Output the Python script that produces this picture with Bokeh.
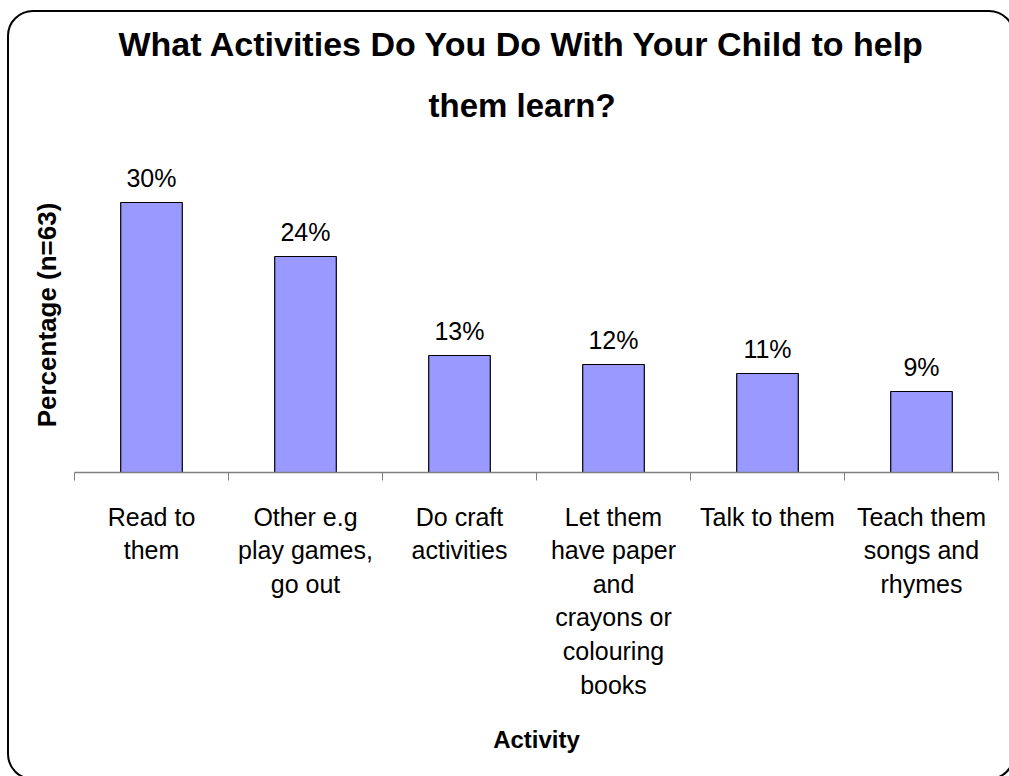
from bokeh.plotting import figure
from bokeh.models import FixedTicker, Range1d, ColumnDataSource, LabelSet, Title, InlineStyleSheet
from bokeh.embed import file_html
from bokeh.resources import INLINE
from bokeh.core.properties import value

# ---- data ----
categories = [
    "Read to\nthem",
    "Other e.g\nplay games,\ngo out",
    "Do craft\nactivities",
    "Let them\nhave paper\nand\ncrayons or\ncolouring\nbooks",
    "Talk to them",
    "Teach them\nsongs and\nrhymes",
]
percentages = [30, 24, 13, 12, 11, 9]
title_lines = ["What Activities Do You Do With Your  Child to help", "them learn?"]
x_title = "Activity"
y_title = "Percentage (n=63)"

FONT = "Liberation Sans"
W, H = 1009, 776
FL, FR, FT, FB = 74, 998, 157, 472  # frame edges on the canvas

xs = [i + 0.5 for i in range(len(categories))]
src = ColumnDataSource(dict(x=xs, top=percentages, label=[f"{v}%" for v in percentages]))

p = figure(width=W, height=H, x_range=Range1d(0, len(categories)), y_range=Range1d(0, 35),
           output_backend="svg", toolbar_location=None,
           min_border_left=FL, min_border_right=W - FR, min_border_top=FT, min_border_bottom=H - FB)
p.title = None
p.outline_line_color = None
p.xgrid.grid_line_color = None
p.ygrid.grid_line_color = None
p.background_fill_color = "white"
p.border_fill_color = "white"

p.vbar(x="x", top="top", width=0.4, source=src, fill_color="#9999FF", line_color="black", line_width=1.2)

labels = LabelSet(x="x", y="top", text="label", source=src, y_offset=16, text_align="center",
                  text_baseline="alphabetic", text_font=value(FONT), text_font_size=value("25px"),
                  text_color="black")
p.add_layout(labels)

# x axis
xa = p.xaxis[0]
xa.ticker = FixedTicker(ticks=xs, minor_ticks=list(range(len(categories) + 1)))
xa.major_label_overrides = {x: c for x, c in zip(xs, categories)}
xa.major_tick_line_color = None
xa.minor_tick_line_color = "#808080"
xa.minor_tick_in = 0
xa.minor_tick_out = 8
xa.axis_line_color = "#808080"
xa.axis_line_width = 1.5
xa.major_label_text_font = FONT
xa.major_label_text_font_size = "25px"
xa.major_label_text_color = "black"
xa.major_label_standoff = 22
xa.axis_label = x_title
xa.axis_label_text_font = FONT
xa.axis_label_text_font_style = "bold"
xa.axis_label_text_font_size = "24px"
xa.axis_label_text_color = "black"
xa.axis_label_standoff = 24

# y axis (only its label shows)
ya = p.yaxis[0]
ya.ticker = FixedTicker(ticks=[])
ya.axis_line_color = None
ya.major_tick_line_color = None
ya.minor_tick_line_color = None
ya.major_label_text_font_size = "0px"
ya.axis_label = y_title
ya.axis_label_text_font = FONT
ya.axis_label_text_font_style = "bold"
ya.axis_label_text_font_size = "26px"
ya.axis_label_text_color = "black"
ya.axis_label_standoff = 13

# title: two lines, line 2 nearest the frame, line 1 stacked above it
t2 = Title(text=title_lines[1], align="left", offset=428 - FL, standoff=68,
           text_font=FONT, text_font_style="bold", text_font_size="33px", text_color="black",
           text_line_height=0.75)
t1 = Title(text=title_lines[0], align="left", offset=118 - FL, standoff=-25,
           text_font=FONT, text_font_style="bold", text_font_size="34px", text_color="black")
p.add_layout(t2, "above")
p.add_layout(t1, "above")

# rounded border around the chart (drawn as an overlay on the plot's host element)
p.stylesheets = [InlineStyleSheet(css=(
    ":host{position:relative;}"
    ":host::after{content:'';position:absolute;left:7px;top:10px;width:1008px;height:770px;"
    "border:2px solid #000;border-radius:26px;box-sizing:border-box;pointer-events:none;}"
))]

open("out.html", "w").write(file_html(p, INLINE))
